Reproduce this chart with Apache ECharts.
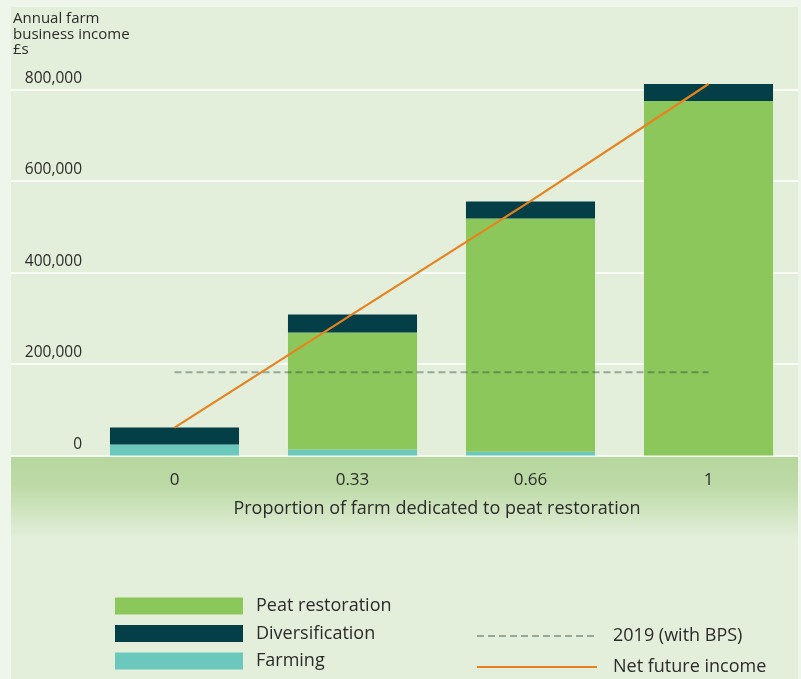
<!DOCTYPE html>
<html>
<head>
<meta charset="utf-8">
<script src="https://cdn.jsdelivr.net/npm/echarts@6/dist/echarts.min.js"></script>
<style>
  html, body { margin: 0; padding: 0; background: #eef5ea; }
  #chart { width: 801px; height: 679px; }
</style>
</head>
<body>
<div id="chart"></div>
<script>
// Proportion of the farm given over to peat restoration
var categories = ['0', '0.33', '0.66', '1'];

// Annual farm business income components (£)
var farming = [24000, 13000, 8000, 0];
var peatRestoration = [0, 256000, 510000, 775000];
var diversification = [37000, 39000, 37000, 37000];

// Net future income and the 2019 baseline (with BPS)
var netFutureIncome = [61000, 309000, 556000, 812000];
var baseline2019 = [182000, 182000, 182000, 182000];

// Value-axis tick marks
var yTicks = [0, 200000, 400000, 600000, 800000];

var FONT = '"Open Sans", "Noto Sans", sans-serif';
var TEXT = '#2b2b2b';

function fmt(v) {
  return v.toLocaleString('en-GB');
}

var chart = echarts.init(document.getElementById('chart'), null, { renderer: 'canvas' });

var yBase = {
  type: 'value',
  min: yTicks[0],
  max: yTicks[yTicks.length - 1],
  interval: yTicks[1] - yTicks[0]
};

chart.setOption({
  backgroundColor: '#eef5ea',
  animation: false,
  textStyle: { fontFamily: FONT },
  graphic: [
    {
      type: 'rect', z: -10, silent: true,
      shape: { x: 11, y: 7, width: 787, height: 672 },
      style: { fill: '#e4efdb' }
    },
    {
      type: 'rect', z: -9, silent: true,
      shape: { x: 11, y: 456.5, width: 787, height: 82 },
      style: {
        fill: new echarts.graphic.LinearGradient(0, 0, 0, 1, [
          { offset: 0, color: '#b6d79e' },
          { offset: 0.35, color: '#bddaa6' },
          { offset: 1, color: '#e4efdb' }
        ])
      }
    },
    {
      type: 'text', left: 13, top: 11,
      style: {
        text: 'Annual farm\nbusiness income\n£s',
        font: '15px ' + FONT,
        lineHeight: 15.5,
        fill: TEXT
      }
    }
  ],
  grid: [
    { left: 11, right: 3, top: 89.5, bottom: 223.5 },
    { left: 85.5, right: 3.5, top: 89.5, bottom: 223.5 }
  ],
  xAxis: [
    {
      type: 'category', gridIndex: 0, data: categories, show: false
    },
    {
      type: 'category', gridIndex: 1, data: categories,
      axisLine: { show: false },
      axisTick: { show: false },
      axisLabel: { color: TEXT, fontSize: 17, margin: 16, fontFamily: FONT },
      name: 'Proportion of farm dedicated to peat restoration',
      nameLocation: 'middle',
      nameGap: 44,
      nameTextStyle: { color: TEXT, fontSize: 18, fontFamily: FONT, padding: [0, 9, 0, 0] }
    }
  ],
  yAxis: [
    Object.assign({}, yBase, {
      gridIndex: 0,
      axisLine: { show: false },
      axisTick: { show: false },
      splitLine: { show: true, lineStyle: { color: '#ffffff', width: 1.5 } },
      axisLabel: {
        inside: true,
        margin: 71,
        align: 'right',
        verticalAlign: 'bottom',
        padding: [0, 0, 3, 0],
        color: TEXT,
        fontSize: 15.5,
        fontFamily: FONT,
        formatter: fmt
      }
    }),
    Object.assign({}, yBase, {
      gridIndex: 1, show: false, splitLine: { show: false }
    })
  ],
  legend: [
    {
      orient: 'vertical', left: 115, top: 597, padding: 0,
      itemWidth: 128, itemHeight: 17, itemGap: 9.5,
      icon: 'rect',
      data: ['Peat restoration', 'Diversification', 'Farming'],
      textStyle: { color: TEXT, fontSize: 18, fontFamily: FONT, padding: [0, 0, 0, 8] },
      selectedMode: false
    },
    {
      orient: 'vertical', left: 476, top: 627, padding: 0, height: 50,
      itemWidth: 120, itemHeight: 14, itemGap: 13,
      itemStyle: { opacity: 0 },
      data: ['2019 (with BPS)', 'Net future income'],
      textStyle: { color: TEXT, fontSize: 18, fontFamily: FONT, padding: [0, 0, 0, 11] },
      selectedMode: false
    }
  ],
  series: [
    {
      name: 'Farming', type: 'bar', stack: 'income',
      xAxisIndex: 1, yAxisIndex: 1, barWidth: '72.5%', clip: false,
      itemStyle: { color: '#6bc8bd' },
      data: farming
    },
    {
      name: 'Peat restoration', type: 'bar', stack: 'income',
      xAxisIndex: 1, yAxisIndex: 1, barWidth: '72.5%', clip: false,
      itemStyle: { color: '#8bc75a' },
      data: peatRestoration
    },
    {
      name: 'Diversification', type: 'bar', stack: 'income',
      xAxisIndex: 1, yAxisIndex: 1, barWidth: '72.5%', clip: false,
      itemStyle: { color: '#043f48' },
      data: diversification
    },
    {
      name: '2019 (with BPS)', type: 'line',
      xAxisIndex: 1, yAxisIndex: 1, clip: false, z: 4,
      symbol: 'none',
      lineStyle: { color: 'rgba(40, 70, 65, 0.42)', width: 2, type: [7, 4] },
      itemStyle: { color: 'rgba(40, 70, 65, 0.42)' },
      data: baseline2019
    },
    {
      name: 'Net future income', type: 'line',
      xAxisIndex: 1, yAxisIndex: 1, clip: false, z: 5,
      symbol: 'none',
      lineStyle: { color: '#e8821e', width: 2.2 },
      itemStyle: { color: '#e8821e' },
      data: netFutureIncome
    }
  ]
});
</script>
</body>
</html>
